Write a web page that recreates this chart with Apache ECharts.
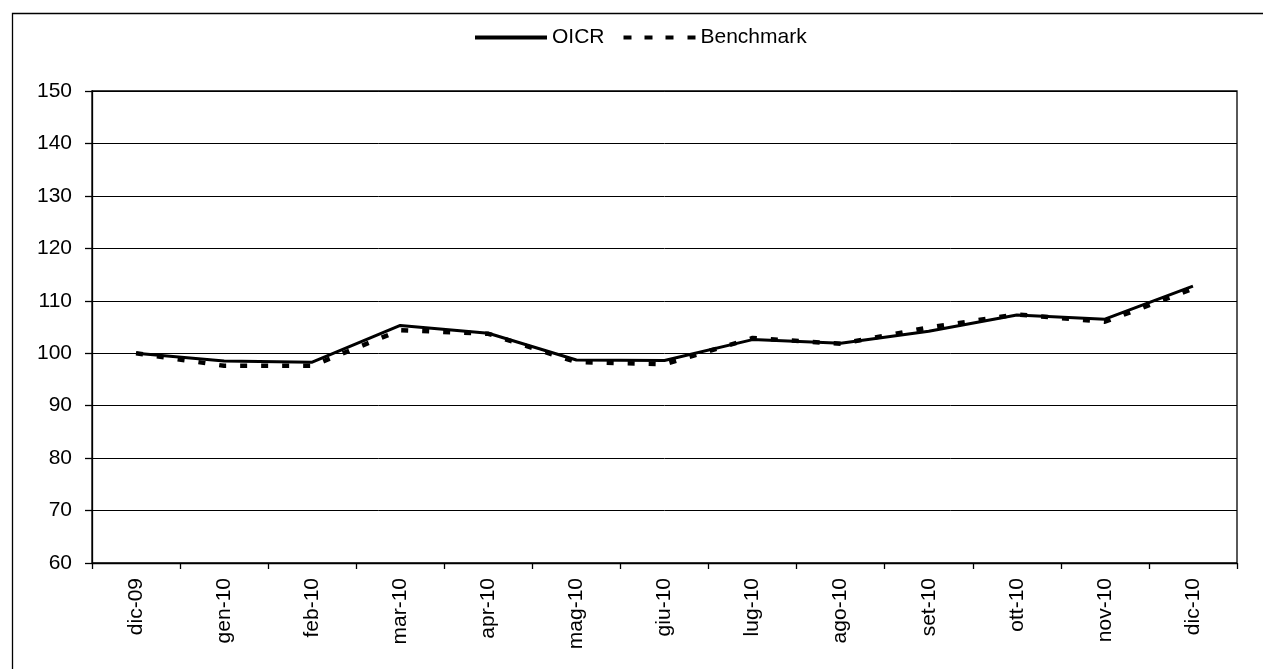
<!DOCTYPE html>
<html><head><meta charset="utf-8">
<script src="https://cdn.jsdelivr.net/npm/echarts@6/dist/echarts.min.js"></script>
<style>html,body{margin:0;padding:0;background:#fff}#c{width:1263px;height:669px}</style>
</head><body><div id="c"></div>
<script>
var categories = ['dic-09','gen-10','feb-10','mar-10','apr-10','mag-10','giu-10','lug-10','ago-10','set-10','ott-10','nov-10','dic-10'];
var oicr = [100.0, 98.5, 98.3, 105.3, 103.8, 98.7, 98.6, 102.6, 101.9, 104.2, 107.3, 106.5, 112.8];
var benchmark = [100.0, 97.6, 97.6, 104.4, 103.7, 98.3, 97.9, 102.9, 101.8, 104.9, 107.4, 106.0, 112.3];
var yMin = 60, yMax = 150, yStep = 10;

var chart = echarts.init(document.getElementById('c'), null, {renderer: 'canvas'});
var font = 'Liberation Sans, Arial, sans-serif';
chart.setOption({
  animation: false,
  backgroundColor: '#fff',
  textStyle: {fontFamily: font},
  graphic: [{type: 'rect', left: 10, top: 11, shape: {width: 1300, height: 700}, style: {fill: 'none', stroke: '#000', lineWidth: 1.3}, silent: true}],
  legend: {
    top: 22, left: 470,
    data: [
      {name: 'OICR', icon: 'path://M0,0H72V4H0Z'},
      {name: 'Benchmark', icon: 'path://M0,0H8V4H0Z M21,0H29V4H21Z M42,0H50V4H42Z M64,0H72V4H64Z'}
    ],
    itemWidth: 72, itemHeight: 4, itemGap: 19,
    textStyle: {fontSize: 21, color: '#000', fontFamily: font}
  },
  grid: {left: 92, right: 26, top: 91, bottom: 106, show: true, borderColor: '#000', borderWidth: 1.3},
  xAxis: {
    type: 'category', data: categories, boundaryGap: true,
    axisLine: {lineStyle: {color: '#000', width: 1.3}},
    axisTick: {show: true, length: 6, lineStyle: {color: '#000', width: 1.3}, alignWithLabel: false},
    axisLabel: {rotate: 90, margin: 15, fontSize: 21, color: '#000', fontFamily: font, interval: 0}
  },
  yAxis: {
    type: 'value', min: yMin, max: yMax, interval: yStep,
    axisLine: {show: true, lineStyle: {color: '#000', width: 1.3}},
    axisTick: {show: true, length: 7, lineStyle: {color: '#000', width: 1.3}},
    axisLabel: {margin: 20, fontSize: 21, color: '#000', fontFamily: font},
    splitLine: {show: true, lineStyle: {color: '#000', width: 1}}
  },
  series: [
    {name: 'Benchmark', type: 'line', data: benchmark, symbol: 'none', z: 2,
     lineStyle: {color: '#000', width: 4.5, type: [7, 14]}, itemStyle: {color: '#000'}},
    {name: 'OICR', type: 'line', data: oicr, symbol: 'none', z: 3,
     lineStyle: {color: '#000', width: 3, type: 'solid'}, itemStyle: {color: '#000'}}
  ]
});
</script></body></html>
